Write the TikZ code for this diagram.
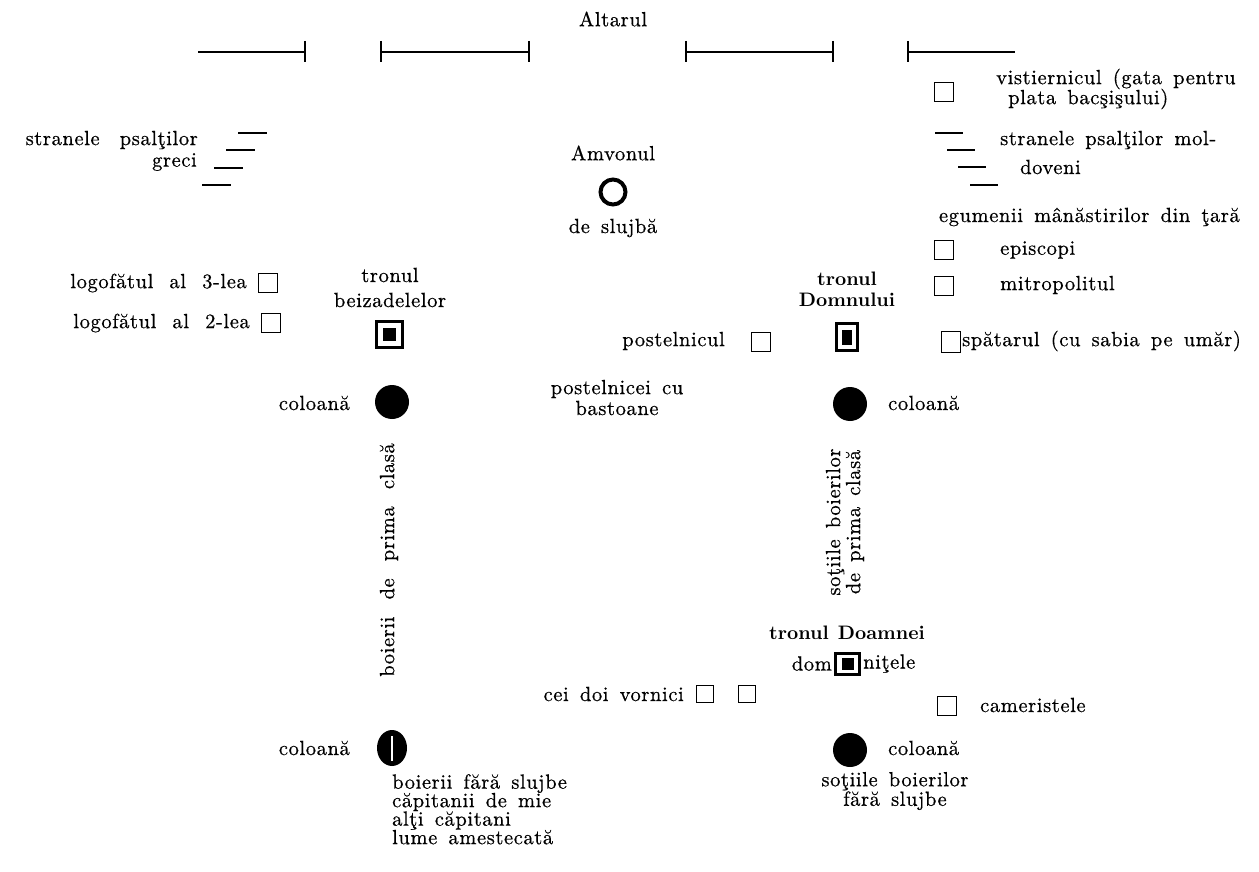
\documentclass[tikz,border=0pt]{standalone}
\usepackage{fontspec}
\setmainfont{lmroman10-regular.otf}[LetterSpace=3, WordSpace=1.5, FakeBold=0.6]
\newfontfamily\bfam{lmroman10-bold.otf}[WordSpace=1.2]
\usetikzlibrary{shapes.geometric}
\tikzset{
  lbl/.style={font=\fontsize{20.5}{20}\selectfont, inner sep=0pt},
  blbl/.style={font=\bfam\fontsize{19.5}{21}\selectfont, inner sep=0pt},
  sq/.style={draw, line width=1.7pt, minimum width=19pt, minimum height=19pt, inner sep=0pt},
  col/.style={circle, fill=black, minimum size=34pt, inner sep=0pt},
  wall/.style={line width=1.2pt},
  bench/.style={line width=2.6pt},
  thr/.style={draw, line width=3pt, inner sep=0pt},
  thrin/.style={fill=black, inner sep=0pt},
}
\begin{document}
\begin{tikzpicture}[x=1pt,y=-1pt]
\useasboundingbox (0,0) rectangle (1259,872);
% altar
\node[lbl] (altar) at (613,19) {Altarul};
\draw[wall] (198,52) -- (305,52);
\draw[wall] (305,41) -- (305,62);
\draw[wall] (381,52) -- (529,52);
\draw[wall] (381,41) -- (381,62);
\draw[wall] (529,41) -- (529,62);
\draw[wall] (686,52) -- (833,52);
\draw[wall] (686,41) -- (686,62);
\draw[wall] (833,41) -- (833,62);
\draw[wall] (908,52) -- (1015,52);
\draw[wall] (908,41) -- (908,62);
% left psalti
\node[lbl, anchor=east] (strL1) at (198,140) {stranele\hspace{9pt} psalţilor};
\node[lbl, anchor=east] (strL2) at (197,162) {greci};
\draw[bench] (238,133) -- (267,133);
\draw[bench] (226,150) -- (255,150);
\draw[bench] (214,168) -- (243,168);
\draw[bench] (202,185) -- (231,185);
% right column
\node[sq] (bvist) at (944,92) {};
\node[lbl, anchor=west] (vist1) at (996,79) {vistiernicul (gata pentru};
\node[lbl, anchor=west] (vist2) at (1008,99) {plata bacşişului)};
\draw[bench] (935,133) -- (963,133);
\draw[bench] (947,150) -- (975,150);
\draw[bench] (958,167) -- (986,167);
\draw[bench] (970,185) -- (998,185);
\node[lbl, anchor=west] (strR1) at (1000,140) {stranele psalţilor mol-};
\node[lbl, anchor=west] (strR2) at (1020,167) {doveni};
\node[lbl, anchor=east] (egum) at (1240,217) {egumenii mânăstirilor din ţară};
\node[sq] (bepis) at (944,250) {};
\node[lbl, anchor=west] (epis) at (1000,250) {episcopi};
\node[sq] (bmitr) at (944,286) {};
\node[lbl, anchor=west] (mitr) at (1000,285) {mitropolitul};
% logofeti
\node[lbl, anchor=east] (log3) at (247,283) {logofătul\hspace{5pt} al\hspace{5pt} 3-lea};
\node[sq] (blog3) at (268,283) {};
\node[lbl, anchor=east] (log2) at (250,323) {logofătul\hspace{5pt} al\hspace{5pt} 2-lea};
\node[sq] (blog2) at (271,323) {};
% tronul beizadelelor
\node[lbl] (tb1) at (390,275) {tronul};
\node[lbl] (tb2) at (390,300) {beizadelelor};
\node[thr, minimum size=26pt] (thrB) at (389.5,334.5) {};
\node[thrin, minimum size=13pt] (thrBi) at (thrB) {};
% amvon
\node[lbl] (amv) at (613,153) {Amvonul};
\node[circle, draw, line width=4pt, minimum size=25pt, inner sep=0pt] (amvon) at (613,192) {};
\node[lbl] (slujba) at (613,228) {de slujbă};
% tronul Domnului
\node[blbl] (td1) at (847,279) {tronul};
\node[blbl] (td2) at (847,300) {Domnului};
\node[thr, minimum width=21pt, minimum height=27pt] (thrD) at (847,337) {};
\node[thrin, minimum width=10pt, minimum height=15pt] (thrDi) at (thrD) {};
\node[lbl, anchor=east] (post) at (725,341) {postelnicul};
\node[sq] (bpost) at (761,342) {};
\node[sq, minimum height=21pt] (bspat) at (951,342) {};
\node[lbl, anchor=west] (spat) at (962,341) {spătarul (cu sabia pe umăr)};
% columns upper
\node[col] (colUL) at (392,402) {};
\node[col] (colUR) at (850,404) {};
\node[lbl, anchor=east] (cUL) at (350,403) {coloană};
\node[lbl, anchor=west] (cUR) at (888,403) {coloană};
\node[lbl] (pb1) at (617,389) {postelnicei cu};
\node[lbl] (pb2) at (617,408) {bastoane};
% vertical texts
\node[lbl, rotate=90] (boierii) at (389,560) {boierii\hspace{6pt} de\hspace{6pt} prima\hspace{6pt} clasă};
\node[lbl, rotate=90, align=center] (sotii) at (845,522) {soţiile boierilor\\de prima clasă};
% tronul Doamnei
\node[blbl] (tdoa) at (847,633) {tronul Doamnei};
\node[thr, minimum width=24pt, minimum height=21pt] (thrDo) at (847.5,663.5) {};
\node[thrin, minimum size=12pt] (thrDoi) at (thrDo) {};
\node[lbl, anchor=east] (dom) at ([xshift=-2pt]thrDo.west) {dom};
\node[lbl, anchor=west] (nitele) at ([xshift=2pt]thrDo.east) {niţele};
% vornici, cameriste
\node[lbl, anchor=east] (vorn) at (684,694) {cei doi vornici};
\node[sq, minimum width=17pt, minimum height=17pt] (bv1) at (705,694) {};
\node[sq, minimum width=17pt, minimum height=17pt] (bv2) at (747,694) {};
\node[sq] (bcam) at (947,706) {};
\node[lbl, anchor=west] (cam) at (980,705) {cameristele};
% columns lower
\node[ellipse, fill=black, minimum width=30pt, minimum height=36pt, inner sep=0pt] (colLL) at (392,748) {};
\draw[white, line width=1.1pt] (392,736) -- (392,761);
\node[col] (colLR) at (850,750) {};
\node[lbl, anchor=east] (cLL) at (350,748) {coloană};
\node[lbl, anchor=west] (cLR) at (888,748) {coloană};
% bottom texts
\node[lbl, anchor=north west, align=left, font=\fontsize{20.5}{18.5}\selectfont] (fara) at (392,774) {boierii fără slujbe\\căpitanii de mie\\alţi căpitani\\lume amestecată};
\node[lbl, align=center, font=\fontsize{20.5}{18.5}\selectfont] (sotf) at (895,791) {soţiile boierilor\\fără slujbe};
\end{tikzpicture}
\end{document}
